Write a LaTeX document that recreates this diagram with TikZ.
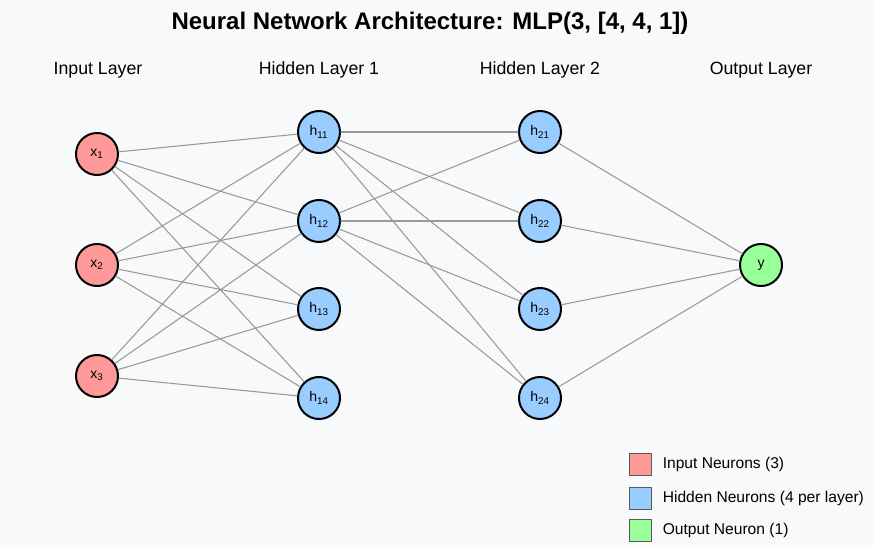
\documentclass[tikz,border=0pt]{standalone}
\usepackage{fontspec}
\setmainfont{Liberation Sans}
\usetikzlibrary{calc}
\definecolor{bgcol}{HTML}{F8F9FA}
\definecolor{incol}{HTML}{FF9999}
\definecolor{hidcol}{HTML}{99CCFF}
\definecolor{outcol}{HTML}{99FF99}
\definecolor{edgecol}{HTML}{999999}
\begin{document}
\begin{tikzpicture}[x=0.75pt,y=-0.75pt,line join=round,line cap=round,
  neuron/.style={circle,draw=black,line width=1.5pt,minimum size=31.5pt,inner sep=0pt,font=\fontsize{10.5}{11}\selectfont},
  link/.style={draw=edgecol,line width=0.8pt},
  legbox/.style={draw=black!65,line width=0.75pt,minimum size=16.5pt,inner sep=0pt},
  layertxt/.style={font=\fontsize{13.3}{15}\selectfont}]
\fill[bgcol] (0,0) rectangle (874,545);
\useasboundingbox (0,0) rectangle (874,545);
\node[font=\bfseries\fontsize{18}{21}\selectfont] (title) at (430,23) {Neural Network Architecture: MLP(3, [4, 4, 1])};
% layer labels
\foreach \n/\x/\t in {lin/98/Input Layer,lh1/319/Hidden Layer 1,lh2/540/Hidden Layer 2,lout/761/Output Layer}
  {\node[layertxt] (\n) at (\x,70) {\t};}
% neurons
\foreach \i/\y in {1/154,2/265,3/376}
  {\node[neuron,fill=incol] (x\i) at (97,\y) {x\textsubscript{\i}};}
\foreach \j/\y in {1/132,2/221,3/309,4/398}{
  \node[neuron,fill=hidcol] (ha\j) at (319,\y) {h\textsubscript{1\j}};
  \node[neuron,fill=hidcol] (hb\j) at (540,\y) {h\textsubscript{2\j}};}
\node[neuron,fill=outcol] (y) at (761,265) {y};
% connections
\foreach \i in {1,2,3}{\foreach \j in {1,2,3,4}{\draw[link] (x\i)--(ha\j);}}
\foreach \i in {1,2}{\foreach \j in {1,2,3,4}{\draw[link] (ha\i)--(hb\j);}}
\foreach \j in {1,2,3,4}{\draw[link] (hb\j)--(y);}
% legend
\foreach \n/\y/\c/\t in {lgin/464/incol/Input Neurons (3),lghid/498/hidcol/Hidden Neurons (4 per layer),lgout/530/outcol/Output Neuron (1)}{
  \node[legbox,fill=\c] (\n) at (640,\y) {};
  \node[anchor=west,font=\fontsize{11.7}{13}\selectfont,inner sep=0pt] at ($(\n.east)+(11,0)$) {\t};}
\end{tikzpicture}
\end{document}
